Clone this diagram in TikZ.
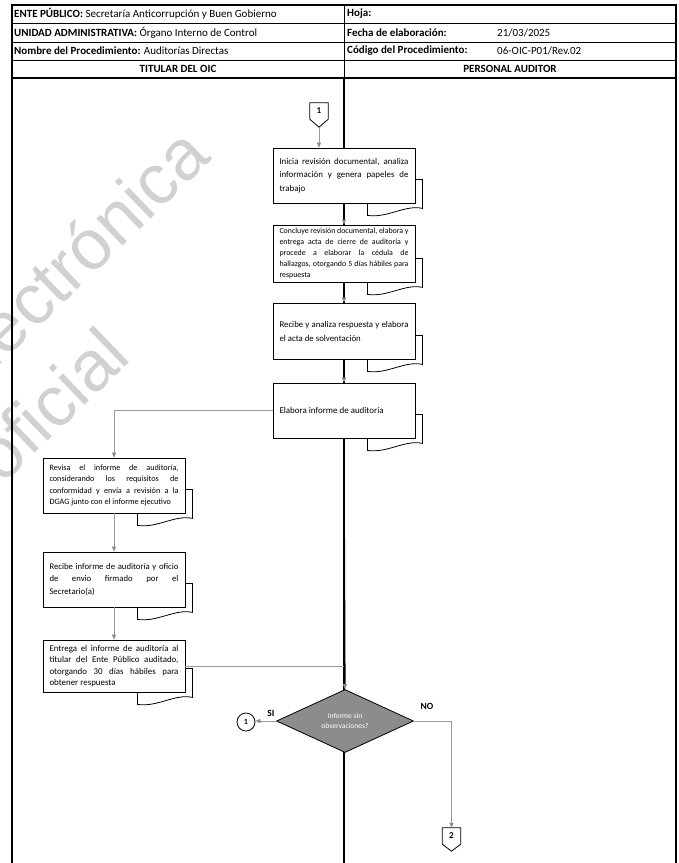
\documentclass[tikz,border=0pt]{standalone}
\usepackage{fontspec}
\setmainfont{Carlito}
\newfontfamily\wmfont{Liberation Sans}
\usetikzlibrary{arrows.meta,calc,shapes.geometric,backgrounds}

\newcommand\docshadow[1]{%
  \draw[boxline, fill=white] ($(#1.south east)+(0,-24)$) -- ++(7,0)
    -- ($(#1.south east)+(7,5)$)
    .. controls ($(#1.south east)+(-10,1)$) and ($(#1.south east)+(-28,15)$) ..
    ($(#1.south east)+(-48,12)$) -- ($(#1.south east)+(-48,0)$);}

\begin{document}
\begin{tikzpicture}[x=1pt,y=-1pt,
  boxline/.style={line width=0.8pt, draw=black},
  frameline/.style={line width=1.2pt, draw=black},
  hline/.style={line width=0.8pt, draw=black},
  proc/.style={boxline, fill=white, minimum width=142pt, minimum height=55pt,
    text width=129pt, align=justify, inner sep=0pt,
    execute at begin node={\hyphenpenalty=10000\tolerance=9999\emergencystretch=20pt\relax}},
  hdr/.style={anchor=west, inner sep=0pt, font=\fontsize{11}{12}\selectfont},
  hdrc/.style={inner sep=0pt, font=\fontsize{11}{12}\selectfont\bfseries},
  wm/.style={text=black!18, font=\wmfont\fontsize{71}{71}\selectfont, inner sep=0pt},
  gline/.style={draw=black!40, line width=0.6pt},
  garrow/.style={gline, -{Triangle[length=5pt,width=4pt,color=black!45]}},
  flowarrow/.style={line width=1.2pt, draw=black, -{Triangle[length=5pt,width=4pt,color=black!45]}},
  offpage/.style={minimum width=18pt, minimum height=16pt, inner sep=0pt,
    font=\fontsize{9}{10}\selectfont\bfseries},
  lbl/.style={inner sep=0pt, font=\fontsize{9.5}{10}\selectfont\bfseries}
]
\useasboundingbox (0,0) rectangle (679,863);

% watermark
\begin{scope}
  \clip (0,0) rectangle (679,863);
  \node[wm, anchor=base east, rotate=44] (wm1) at (213,159) {electrónica};
  \node[wm, anchor=base east, rotate=44] (wm2) at (133,359) {oficial};
\end{scope}

% frame and header
\draw[frameline] (12,863) -- (12,5) -- (676,5) -- (676,863);
\draw[hline] (12,23) -- (676,23);
\draw[hline] (12,42) -- (676,42);
\draw[hline] (12,60) -- (676,60);
\draw[frameline] (12,78) -- (676,78);
\draw[hline] (344,5) -- (344,78);
\draw[frameline] (344,78) -- (344,863);

\node[hdr] (h1) at (14,14) {\textbf{ENTE PÚBLICO:} Secretaría Anticorrupción y Buen Gobierno};
\node[hdr] (h2) at (14,32.5) {\textbf{UNIDAD ADMINISTRATIVA:} Órgano Interno de Control};
\node[hdr] (h3) at (14,51) {\textbf{Nombre del Procedimiento:} Auditorías Directas};
\node[hdr] (h4) at (347,14) {\textbf{Hoja:}};
\node[hdr] (h5) at (347,32.5) {\textbf{Fecha de elaboración:}};
\node[hdr] (h6) at (497,32.5) {21/03/2025};
\node[hdr] (h7) at (347,51) {\textbf{Código del Procedimiento:}};
\node[hdr] (h8) at (497,51) {06-OIC-P01/Rev.02};
\node[hdrc] (l1) at (178,69) {TITULAR DEL OIC};
\node[hdrc] (l2) at (510,69) {PERSONAL AUDITOR};

% process boxes
\node[proc, font=\fontsize{8.9}{13.5}\selectfont] (b1) at (344,175.5)
  {Inicia revisión documental, analiza\linebreak información y genera papeles de\linebreak trabajo};
\node[proc, minimum height=57pt, font=\fontsize{7.9}{11}\selectfont] (b2) at (344,253.5)
  {Concluye revisión documental, elabora y\linebreak entrega acta de cierre de auditoría y\linebreak procede a elaborar la cédula de\linebreak hallazgos, otorgando 5 días hábiles para\linebreak respuesta};
\node[proc, minimum height=56pt, font=\fontsize{8.8}{14}\selectfont] (b3) at (344,331)
  {Recibe y analiza respuesta y elabora\linebreak el acta de solventación};
\node[proc, font=\fontsize{8.95}{13}\selectfont] (b4) at (344,410.5)
  {Elabora informe de auditoría};
\node[proc, font=\fontsize{8.2}{11.4}\selectfont] (b5) at (114,485.5)
  {Revisa el informe de auditoría,\linebreak considerando los requisitos de\linebreak conformidad y envía a revisión a la\linebreak DGAG junto con el informe ejecutivo};
\node[proc, font=\fontsize{8.7}{12.8}\selectfont] (b6) at (114,579.5)
  {Recibe informe de auditoría y oficio\linebreak de envio firmado por el\linebreak Secretario(a)};
\node[proc, minimum height=52pt, font=\fontsize{8.9}{11.3}\selectfont] (b7) at (114,666)
  {Entrega el informe de auditoría al\linebreak titular del Ente Público auditado,\linebreak otorgando 30 días hábiles para\linebreak obtener respuesta};

\node[diamond, boxline, fill=black!45, minimum width=137pt, minimum height=63pt,
  inner sep=0pt, align=center, text=white, font=\fontsize{7.5}{10}\selectfont] (d) at (345,721)
  {Informe sin\\observaciones?};

% connectors
\node[offpage] (c1) at (319,111) {1};
\draw[boxline] (c1.north west) -- (c1.north east) -- (c1.south east)
  -- ($(c1.south)+(0,8)$) -- (c1.south west) -- cycle;
\coordinate (c1tip) at ($(c1.south)+(0,8)$);

\node[offpage] (c2) at (451.5,836) {2};
\draw[boxline] (c2.north west) -- (c2.north east) -- (c2.south east)
  -- ($(c2.south)+(0,7)$) -- (c2.south west) -- cycle;

\node[circle, boxline, minimum size=18pt, inner sep=0pt,
  font=\fontsize{8}{9}\selectfont\bfseries] (c1b) at (246,722) {1};

\node[lbl] (si) at (271,713) {SI};
\node[lbl] (no) at (427,706) {NO};

% document shadows
\begin{pgfonlayer}{background}
  \docshadow{b1}
  \docshadow{b2}
  \docshadow{b3}
  \docshadow{b4}
  \docshadow{b5}
  \docshadow{b6}
  \docshadow{b7}
\end{pgfonlayer}

% flow lines
\draw[garrow] (c1tip) -- (c1.south |- b1.north);
\draw[flowarrow] (b1.south) -- (b2.north);
\draw[flowarrow] (b2.south) -- (b3.north);
\draw[flowarrow] (b3.south) -- (b4.north);
\draw[flowarrow] (b4.south) -- (d.north);
\draw[garrow] (b4.west) -| (b5.north);
\draw[garrow] (b5.south) -- (b6.north);
\draw[garrow] (b6.south) -- (b7.north);
\draw[gline] (b7.east) -- (b7.east -| b4.south);
\draw[garrow] (d.west) -- (d.west -| c1b.east);
\draw[garrow] (d.east) -| (c2.north);
\end{tikzpicture}
\end{document}
